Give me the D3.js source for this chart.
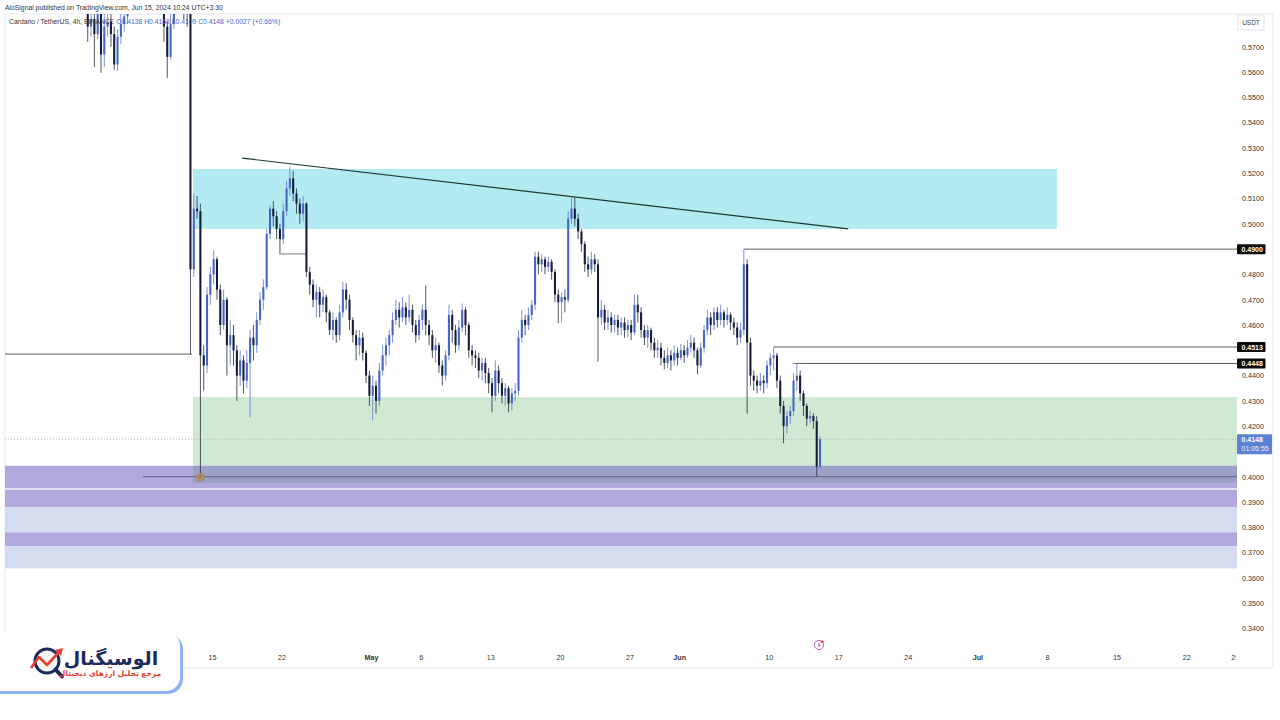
<!DOCTYPE html>
<html>
<head>
<meta charset="utf-8">
<script src="https://cdn.jsdelivr.net/npm/d3@7"></script>
<style>
body { margin: 0; background: #fff; }
text { font-family: "Liberation Sans", Arial, sans-serif; }
</style>
</head>
<body>
<svg id="chart" width="1280" height="720"></svg>
<script>
// ADA/USDT 8h candles starting 2 Apr 2024 00:00 UTC
var candleStart = Date.UTC(2024, 3, 2);
var candleHours = 8;
var firstOpen = 0.600;
var closes = [
0.592,0.578,0.581,0.575,0.583,0.567,0.578,0.580,0.575,0.563,0.574,0.579,0.582,0.588,0.592,0.595,0.598,0.592,0.600,0.604,
0.598,0.601,0.596,0.592,0.578,0.566,0.579,0.584,0.590,0.592,0.586,0.583,0.482,0.506,0.505,0.448,0.444,0.472,0.480,0.486,
0.474,0.460,0.470,0.452,0.456,0.450,0.440,0.446,0.438,0.445,0.455,0.452,0.462,0.470,0.475,0.496,0.506,0.503,0.498,0.494,
0.505,0.514,0.518,0.512,0.508,0.504,0.508,0.481,0.476,0.470,0.473,0.468,0.471,0.465,0.458,0.462,0.456,0.465,0.474,0.470,
0.462,0.456,0.452,0.455,0.449,0.440,0.432,0.436,0.430,0.442,0.448,0.452,0.456,0.462,0.466,0.463,0.467,0.463,0.466,0.460,
0.456,0.462,0.466,0.460,0.456,0.450,0.452,0.444,0.440,0.448,0.464,0.458,0.452,0.459,0.466,0.460,0.450,0.448,0.447,0.442,
0.445,0.441,0.437,0.432,0.442,0.437,0.432,0.435,0.429,0.433,0.434,0.455,0.462,0.460,0.464,0.468,0.487,0.484,0.486,0.483,
0.485,0.481,0.472,0.469,0.471,0.470,0.502,0.506,0.502,0.497,0.492,0.484,0.482,0.486,0.484,0.463,0.466,0.461,0.463,0.460,
0.462,0.459,0.461,0.458,0.460,0.457,0.468,0.465,0.458,0.455,0.458,0.453,0.450,0.451,0.447,0.445,0.448,0.446,0.449,0.447,
0.450,0.448,0.451,0.453,0.450,0.444,0.451,0.458,0.463,0.460,0.465,0.462,0.465,0.462,0.464,0.461,0.459,0.455,0.458,0.484,
0.453,0.440,0.438,0.436,0.438,0.437,0.444,0.447,0.448,0.438,0.428,0.420,0.424,0.426,0.438,0.440,0.433,0.428,0.423,0.424,
0.422,0.404,0.4148];
var highs = [
0.605,0.593,0.588,0.584,0.589,0.585,0.583,0.587,0.584,0.578,0.577,0.585,0.589,0.594,0.598,0.601,0.604,0.600,0.606,0.610,
0.606,0.607,0.604,0.598,0.594,0.580,0.583,0.590,0.596,0.598,0.594,0.589,0.586,0.512,0.511,0.508,0.452,0.475,0.483,0.4896,
0.487,0.476,0.474,0.471,0.462,0.460,0.452,0.450,0.448,0.450,0.458,0.460,0.465,0.473,0.478,0.498,0.5075,0.509,0.505,0.500,
0.508,0.517,0.5225,0.521,0.514,0.510,0.511,0.5085,0.483,0.478,0.476,0.475,0.474,0.472,0.466,0.465,0.463,0.468,0.477,0.4765,
0.472,0.463,0.458,0.458,0.457,0.450,0.442,0.440,0.438,0.445,0.452,0.455,0.458,0.465,0.470,0.469,0.471,0.469,0.472,0.468,
0.462,0.464,0.468,0.4757,0.462,0.458,0.455,0.453,0.446,0.450,0.468,0.466,0.460,0.462,0.4685,0.467,0.461,0.452,0.450,0.449,
0.447,0.447,0.443,0.439,0.446,0.444,0.439,0.437,0.436,0.435,0.437,0.458,0.466,0.464,0.467,0.470,0.489,0.489,0.488,0.487,
0.487,0.486,0.482,0.474,0.473,0.474,0.505,0.5105,0.5105,0.504,0.498,0.493,0.487,0.489,0.488,0.486,0.470,0.468,0.466,0.465,
0.464,0.464,0.463,0.463,0.462,0.462,0.4722,0.472,0.467,0.460,0.460,0.459,0.455,0.454,0.453,0.450,0.451,0.450,0.452,0.451,
0.4525,0.452,0.454,0.456,0.455,0.451,0.453,0.460,0.466,0.465,0.467,0.467,0.468,0.466,0.467,0.465,0.463,0.461,0.461,0.490,
0.486,0.455,0.442,0.440,0.441,0.440,0.446,0.449,0.4513,0.449,0.440,0.430,0.426,0.428,0.441,0.4448,0.442,0.434,0.429,0.426,
0.425,0.424,0.4158];
var lows = [
0.585,0.572,0.574,0.562,0.573,0.5597,0.562,0.574,0.570,0.561,0.5605,0.571,0.576,0.579,0.585,0.589,0.592,0.588,0.590,0.597,
0.594,0.595,0.591,0.587,0.572,0.5577,0.565,0.577,0.584,0.585,0.581,0.578,0.4485,0.479,0.502,0.3997,0.434,0.441,0.468,0.476,
0.470,0.456,0.458,0.440,0.444,0.444,0.430,0.436,0.433,0.435,0.4235,0.446,0.449,0.460,0.466,0.474,0.494,0.499,0.494,0.4885,
0.492,0.503,0.511,0.509,0.504,0.500,0.501,0.479,0.472,0.467,0.463,0.463,0.465,0.461,0.456,0.454,0.453,0.454,0.463,0.466,
0.458,0.453,0.446,0.448,0.446,0.437,0.428,0.4223,0.425,0.428,0.440,0.444,0.448,0.453,0.460,0.459,0.461,0.460,0.461,0.457,
0.453,0.454,0.458,0.456,0.452,0.447,0.445,0.441,0.436,0.438,0.446,0.453,0.449,0.450,0.457,0.456,0.447,0.444,0.443,0.439,
0.438,0.437,0.433,0.4255,0.430,0.433,0.429,0.428,0.4255,0.4262,0.430,0.432,0.453,0.456,0.458,0.462,0.466,0.480,0.481,0.480,
0.481,0.478,0.469,0.4607,0.461,0.465,0.469,0.500,0.499,0.494,0.489,0.481,0.479,0.480,0.481,0.4455,0.460,0.458,0.458,0.457,
0.457,0.456,0.456,0.455,0.455,0.454,0.456,0.461,0.455,0.452,0.451,0.450,0.447,0.447,0.444,0.4425,0.443,0.442,0.444,0.444,
0.446,0.445,0.447,0.449,0.447,0.4405,0.443,0.449,0.456,0.456,0.458,0.459,0.460,0.459,0.460,0.458,0.456,0.452,0.453,0.456,
0.425,0.436,0.434,0.433,0.434,0.433,0.435,0.440,0.442,0.435,0.425,0.4132,0.417,0.421,0.424,0.434,0.430,0.424,0.420,0.421,
0.419,0.3999,0.403];

// price labels that the axis shows (0.49, 0.45, 0.41 sit under the price tags)
var priceTicks = [0.57,0.56,0.55,0.54,0.53,0.52,0.51,0.50,0.48,0.47,0.46,0.44,0.43,0.42,0.40,0.39,0.38,0.37,0.36,0.35,0.34];
var tickDates = ["2024-04-15","2024-04-22","2024-05-01","2024-05-06","2024-05-13","2024-05-20","2024-05-27","2024-06-01",
                 "2024-06-10","2024-06-17","2024-06-24","2024-07-01","2024-07-08","2024-07-15","2024-07-22","2024-07-29"];
var tickLabels = ["15","22","May","6","13","20","27","Jun","10","17","24","Jul","8","15","22","29"];

// drawn levels: [start date, price]
var levelLines = [["2024-06-07T12:00Z",0.4900],["2024-06-10T12:00Z",0.4513],["2024-06-12T12:00Z",0.4448]];
var marked = [0.4900, 0.4513, 0.4448];
var lastPrice = 0.4148;
var countdown = "01:05:55";
var trendStart = ["2024-04-18T00:30Z", 0.5260];
var trendEnd = ["2024-06-18T00:00Z", 0.4980];
var resistZone = ["2024-04-13T02:00Z", "2024-07-09T00:00Z", 0.4980, 0.5217];
var supportZone = ["2024-04-13T02:00Z", 0.4043, 0.4315];
var overlapZone = ["2024-04-13T02:00Z", 0.3976, 0.4043];
var bandLows  = [0.3955, 0.3880, 0.3780, 0.3726, 0.3638];
var bandHighs = [0.4043, 0.3948, 0.3880, 0.3780, 0.3726];
var bandKind  = ["dark", "dark", "light", "dark", "light"];
var lowMark = ["2024-04-13T20:00Z", 0.3997];

var svg = d3.select("#chart");
var L = 5, R = 1237, T = 14, B = 636;

var x = d3.scaleUtc()
  .domain([new Date("2024-04-15T00:00Z"), new Date("2024-07-08T00:00Z")])
  .range([212, 1047]);
var y = d3.scaleLinear().domain([0.34, 0.57]).range([628.5, 46.8]);

// header
svg.append("text").attr("x", 5).attr("y", 9.5).attr("font-size", 6.8).attr("fill", "#333")
  .text("AloSignal published on TradingView.com, Jun 15, 2024 10:24 UTC+3:30");

// frame
svg.append("rect").attr("x", L).attr("y", T).attr("width", 1273 - L).attr("height", 668 - T)
  .attr("fill", "none").attr("stroke", "#e6e8ee");

svg.append("defs").append("clipPath").attr("id", "plot")
  .append("rect").attr("x", L).attr("y", T).attr("width", R - L).attr("height", B - T);

var plot = svg.append("g").attr("clip-path", "url(#plot)");

// zones
plot.append("rect").attr("x", x(new Date(resistZone[0]))).attr("y", y(resistZone[3]))
  .attr("width", x(new Date(resistZone[1])) - x(new Date(resistZone[0])))
  .attr("height", y(resistZone[2]) - y(resistZone[3])).attr("fill", "#b2ebf2");
plot.append("rect").attr("x", x(new Date(supportZone[0]))).attr("y", y(supportZone[2]))
  .attr("width", R - x(new Date(supportZone[0])))
  .attr("height", y(supportZone[1]) - y(supportZone[2])).attr("fill", "#cfe9d3");

plot.append("rect").attr("x", L).attr("y", y(bandHighs[0])).attr("width", R - L)
  .attr("height", y(bandLows[4]) - y(bandHighs[0])).attr("fill", "#e9e7f5");
plot.selectAll(".band").data(bandLows).enter().append("rect")
  .attr("x", L).attr("width", R - L)
  .attr("y", function(d, i) { return y(bandHighs[i]); })
  .attr("height", function(d, i) { return y(d) - y(bandHighs[i]); })
  .attr("fill", function(d, i) { return bandKind[i] == "dark" ? "#b1a9de" : "#d4ddef"; });
plot.append("rect").attr("x", x(new Date(overlapZone[0]))).attr("y", y(overlapZone[2]))
  .attr("width", R - x(new Date(overlapZone[0])))
  .attr("height", y(overlapZone[1]) - y(overlapZone[2])).attr("fill", "#9ba1c5");

// level lines
plot.append("line").attr("x1", L).attr("x2", 192).attr("y1", y(0.4485)).attr("y2", y(0.4485))
  .attr("stroke", "#333").attr("stroke-width", 0.8);
plot.append("line").attr("x1", 279).attr("x2", 307).attr("y1", y(0.4881)).attr("y2", y(0.4881))
  .attr("stroke", "#555").attr("stroke-width", 0.8);
plot.append("line").attr("x1", 143).attr("x2", R).attr("y1", y(0.4000)).attr("y2", y(0.4000))
  .attr("stroke", "#555a7a").attr("stroke-width", 0.9);
plot.selectAll(".lvl").data(levelLines).enter().append("line")
  .attr("x1", function(d) { return x(new Date(d[0])); }).attr("x2", R)
  .attr("y1", function(d) { return y(d[1]); }).attr("y2", function(d) { return y(d[1]); })
  .attr("stroke", "#333").attr("stroke-width", 0.8);
plot.append("line").attr("x1", L).attr("x2", R).attr("y1", y(lastPrice)).attr("y2", y(lastPrice))
  .attr("stroke", "#a0a4b0").attr("stroke-width", 0.7).attr("stroke-dasharray", "1,2");

// legend
var leg = svg.append("text").attr("x", 9).attr("y", 23.5).attr("font-size", 6.8).attr("fill", "#333");
leg.append("tspan").text("Cardano / TetherUS, 4h, BINANCE ");
leg.append("tspan").attr("fill", "#4a67c9").text(" O0.4138  H0.4158  L0.4109  C0.4148  +0.0027 (+0.66%)");

// candles
var step = candleHours * 3600 * 1000;
var candles = closes.map(function(c, i) {
  var o = i == 0 ? firstOpen : closes[i - 1];
  return { t: new Date(candleStart + i * step), o: o, c: c,
           h: Math.max(highs[i], o, c), l: Math.min(lows[i], o, c) };
});
var bw = (x(new Date(candleStart + step)) - x(new Date(candleStart))) * 0.62;
function cx(d) { return x(new Date(d.t.getTime() + step / 2)); }

plot.selectAll(".wick").data(candles).enter().append("line")
  .attr("x1", cx).attr("x2", cx)
  .attr("y1", function(d) { return y(d.h); }).attr("y2", function(d) { return y(d.l); })
  .attr("stroke", function(d) { return d.c >= d.o ? "#6f86d6" : "#3b3f52"; })
  .attr("stroke-width", 0.9);
plot.selectAll(".body").data(candles).enter().append("rect")
  .attr("x", function(d) { return cx(d) - bw / 2; }).attr("width", bw)
  .attr("y", function(d) { return y(Math.max(d.o, d.c)); })
  .attr("height", function(d) { return Math.max(0.8, Math.abs(y(d.o) - y(d.c))); })
  .attr("fill", function(d) { return d.c >= d.o ? "#4565c6" : "#161b38"; });

// trend line
plot.append("line")
  .attr("x1", x(new Date(trendStart[0]))).attr("y1", y(trendStart[1]))
  .attr("x2", x(new Date(trendEnd[0]))).attr("y2", y(trendEnd[1]))
  .attr("stroke", "#1f3a33").attr("stroke-width", 1.2);

// low marker
plot.append("circle").attr("cx", x(new Date(lowMark[0]))).attr("cy", y(lowMark[1])).attr("r", 4.5)
  .attr("fill", "#b0875a").attr("fill-opacity", 0.8);

// price axis
var yAxis = d3.axisRight(y).tickValues(priceTicks).tickFormat(d3.format(".4f")).tickSize(0).tickPadding(5);
var ya = svg.append("g").attr("transform", "translate(" + R + ",0)").call(yAxis);
ya.select(".domain").remove();
ya.selectAll("text").attr("font-size", 7.2).attr("fill", "#333")
  .style("font-family", "'Liberation Sans', Arial, sans-serif");

svg.append("rect").attr("x", 1238).attr("y", 15).attr("width", 26).attr("height", 15)
  .attr("fill", "#fff").attr("stroke", "#e0e3eb");
svg.append("text").attr("x", 1251).attr("y", 25).attr("text-anchor", "middle")
  .attr("font-size", 6.5).attr("fill", "#444").text("USDT");

var tags = svg.selectAll(".tag").data(marked).enter().append("g")
  .attr("transform", function(d) { return "translate(" + R + "," + y(d) + ")"; });
tags.append("rect").attr("x", 0).attr("y", -5).attr("width", 28.5).attr("height", 10).attr("rx", 1).attr("fill", "#0b0b0b");
tags.append("text").attr("x", 4.5).attr("y", 2.6).attr("font-size", 7).attr("font-weight", "bold")
  .attr("fill", "#fff").text(d3.format(".4f"));

var cur = svg.append("g").attr("transform", "translate(" + R + "," + y(lastPrice) + ")");
cur.append("rect").attr("x", 0).attr("y", -5).attr("width", 35).attr("height", 20).attr("rx", 1).attr("fill", "#5b82d4");
cur.append("text").attr("x", 4.5).attr("y", 2.6).attr("font-size", 7).attr("font-weight", "bold")
  .attr("fill", "#fff").text(d3.format(".4f")(lastPrice));
cur.append("text").attr("x", 4.5).attr("y", 11.5).attr("font-size", 7).attr("fill", "#eef")
  .text(countdown);

// time axis (last label is cut by the price scale, as on the chart)
svg.select("defs").append("clipPath").attr("id", "taxis")
  .append("rect").attr("x", L).attr("y", 640).attr("width", 1236 - L).attr("height", 28);
var tg = svg.append("g").attr("clip-path", "url(#taxis)");
var xAxis = d3.axisBottom(x).tickValues(tickDates.map(function(d) { return new Date(d + "T00:00Z"); }))
  .tickFormat(function(d, i) { return tickLabels[i]; }).tickSize(0).tickPadding(0);
tg.append("g").attr("transform", "translate(0,655)").call(xAxis).call(function(g) {
  g.select(".domain").remove();
  g.selectAll("text").attr("font-size", 7.2).attr("fill", "#333")
    .style("font-family", "'Liberation Sans', Arial, sans-serif")
    .attr("font-weight", function(d, i) { return isNaN(+tickLabels[i]) ? "bold" : "normal"; })
    .attr("dx", function(d, i) { return i == tickLabels.length - 1 ? -21 : 0; });
});

// lightning icon
var li = svg.append("g").attr("transform", "translate(819,645)");
li.append("circle").attr("r", 4.6).attr("fill", "#fff").attr("stroke", "#b04fc9").attr("stroke-width", 0.9);
li.append("path").attr("d", "M0.8,-3 L-1.6,0.4 L0,0.4 L-0.8,3 L1.7,-0.6 L0.1,-0.6 Z").attr("fill", "#b04fc9");
li.append("circle").attr("cx", 3.2).attr("cy", -3.2).attr("r", 1.4).attr("fill", "#e53935");

// logo
var logo = svg.append("g");
logo.append("rect").attr("x", -20).attr("y", 634).attr("width", 203).attr("height", 60).attr("rx", 15).attr("fill", "#8fb1f6");
logo.append("rect").attr("x", -20).attr("y", 632).attr("width", 200).attr("height", 59).attr("rx", 14).attr("fill", "#fff");
logo.append("circle").attr("cx", 47).attr("cy", 661).attr("r", 12).attr("fill", "#f4f7f2")
  .attr("stroke", "#1d2b5c").attr("stroke-width", 3);
logo.append("line").attr("x1", 55.5).attr("y1", 669.5).attr("x2", 62).attr("y2", 676.5)
  .attr("stroke", "#1d2b5c").attr("stroke-width", 4).attr("stroke-linecap", "round");
logo.append("polyline").attr("points", "31,668 39,657 47,665 59,652")
  .attr("fill", "none").attr("stroke", "#e8402f").attr("stroke-width", 2.6).attr("stroke-linejoin", "round");
logo.append("path").attr("d", "M63,648 L55,650 L61,656 Z").attr("fill", "#e8402f");
logo.append("text").attr("x", 111).attr("y", 665).attr("text-anchor", "middle")
  .attr("font-size", 19).attr("font-weight", "bold").attr("fill", "#1d2b5c")
  .style("font-family", "'DejaVu Sans', sans-serif").attr("direction", "rtl").text("الوسیگنال");
logo.append("text").attr("x", 110).attr("y", 676).attr("text-anchor", "middle")
  .attr("font-size", 7.5).attr("font-weight", "bold").attr("fill", "#e53935")
  .style("font-family", "'DejaVu Sans', sans-serif").attr("direction", "rtl").text("مرجع تحلیل ارزهای دیجیتال");
</script>
</body>
</html>
